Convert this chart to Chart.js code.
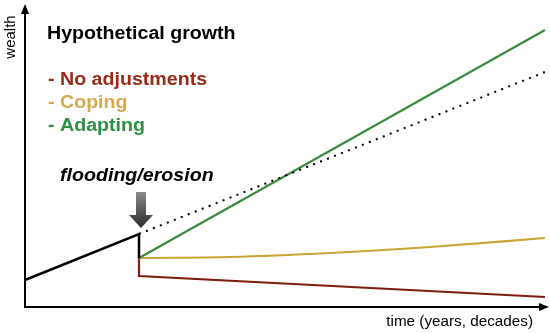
<!DOCTYPE html>
<html>
<head>
<meta charset="utf-8">
<script src="https://cdn.jsdelivr.net/npm/chart.js@4"></script>
<style>
  html, body { margin: 0; padding: 0; background: #fff; }
  #wrap { width: 550px; height: 333px; }
</style>
</head>
<body>
<div id="wrap"><canvas id="growthChart" width="550" height="333"></canvas></div>
<script>
// time runs 0..523, wealth runs 0..302 (no ticks in the original)
const eventTime = 114;
const beforeEvent = [{x: 0, y: 27}, {x: eventTime, y: 73}, {x: eventTime, y: 49}];
const expected = [{x: eventTime, y: 73}, {x: 520, y: 235}];
const adapting = [{x: eventTime, y: 49}, {x: 520, y: 277}];
const coping = [{x: eventTime, y: 49}, {x: 205, y: 50}, {x: 305, y: 54}, {x: 405, y: 60}, {x: 520, y: 69}];
const noAdjustments = [{x: eventTime, y: 49}, {x: eventTime, y: 31}, {x: 520, y: 10}];

const legendItems = ['- No adjustments', '- Coping', '- Adapting'];
const legendColors = ['#9a2a17', '#d6a94e', '#2f8f43'];

// the original's lettering is a bit wider than Arial
const STRETCH = 1.09;
function wideText(ctx, text, x, y, align) {
    ctx.save();
    ctx.translate(x, y);
    ctx.scale(STRETCH, 1);
    ctx.textAlign = align || 'left';
    ctx.fillText(text, 0, 0);
    ctx.restore();
}

const annotations = {
    id: 'annotations',
    afterDraw(chart) {
        const ctx = chart.ctx;
        const xs = chart.scales.x, ys = chart.scales.y;
        const x0 = xs.getPixelForValue(0), y0 = ys.getPixelForValue(0);
        const xEnd = xs.getPixelForValue(523), yTop = ys.getPixelForValue(302);
        ctx.save();

        // axes with arrow heads
        ctx.strokeStyle = '#000';
        ctx.fillStyle = '#000';
        ctx.lineWidth = 2;
        ctx.beginPath();
        ctx.moveTo(x0, yTop + 6);
        ctx.lineTo(x0, y0);
        ctx.lineTo(xEnd - 6, y0);
        ctx.stroke();
        ctx.beginPath();
        ctx.moveTo(x0, yTop - 1);
        ctx.lineTo(x0 - 4, yTop + 9);
        ctx.lineTo(x0 + 4, yTop + 9);
        ctx.closePath();
        ctx.fill();
        ctx.beginPath();
        ctx.moveTo(xEnd + 1, y0);
        ctx.lineTo(xEnd - 9, y0 - 4);
        ctx.lineTo(xEnd - 9, y0 + 4);
        ctx.closePath();
        ctx.fill();

        // axis labels
        ctx.textBaseline = 'alphabetic';
        ctx.font = '14px "Liberation Sans", Arial, sans-serif';
        wideText(ctx, 'time (years, decades)', 533, 326, 'right');
        ctx.save();
        ctx.translate(15, 37);
        ctx.rotate(-Math.PI / 2);
        ctx.textAlign = 'center';
        ctx.font = '15px "Liberation Sans", Arial, sans-serif';
        ctx.fillText('wealth', 0, 0);
        ctx.restore();

        // title and colour key
        ctx.font = 'bold 18px "Liberation Sans", Arial, sans-serif';
        wideText(ctx, 'Hypothetical growth', 47, 39);
        const baselines = [85, 108, 131];
        legendItems.forEach((t, i) => {
            ctx.fillStyle = legendColors[i];
            wideText(ctx, t, 48, baselines[i]);
        });

        // event label and arrow
        ctx.fillStyle = '#000';
        ctx.font = 'italic bold 18px "Liberation Sans", Arial, sans-serif';
        wideText(ctx, 'flooding/erosion', 60, 181);

        const ax = xs.getPixelForValue(eventTime) + 2;
        const g = ctx.createLinearGradient(0, 192, 0, 228);
        g.addColorStop(0, '#8a8a8a');
        g.addColorStop(1, '#2a2a2a');
        ctx.fillStyle = g;
        ctx.beginPath();
        ctx.moveTo(ax - 5, 192);
        ctx.lineTo(ax + 5, 192);
        ctx.lineTo(ax + 5, 215);
        ctx.lineTo(ax + 12, 215);
        ctx.lineTo(ax, 228);
        ctx.lineTo(ax - 12, 215);
        ctx.lineTo(ax - 5, 215);
        ctx.closePath();
        ctx.fill();

        ctx.restore();
    }
};

const growthCtx = document.getElementById('growthChart').getContext('2d');
const growthChart = new Chart(growthCtx, {
    type: 'line',
    data: {
        datasets: [
            { label: 'before', data: beforeEvent, borderColor: '#000', borderWidth: 2.5 },
            { label: 'expected', data: expected, borderColor: '#000', borderWidth: 2, borderDash: [2, 5.5] },
            { label: 'Adapting', data: adapting, borderColor: '#3b8a3e', borderWidth: 2.2 },
            { label: 'Coping', data: coping, borderColor: '#c9a433', borderWidth: 2.2, cubicInterpolationMode: 'monotone' },
            { label: 'No adjustments', data: noAdjustments, borderColor: '#7d1e10', borderWidth: 2.2 }
        ]
    },
    options: {
        responsive: false,
        animation: false,
        layout: { padding: { left: 25, right: 2, top: 5, bottom: 26 } },
        elements: { point: { radius: 0 }, line: { fill: false } },
        datasets: { line: { clip: false } },
        scales: {
            x: { type: 'linear', min: 0, max: 523, display: false },
            y: { min: 0, max: 302, display: false }
        },
        plugins: { legend: { display: false }, tooltip: { enabled: false } }
    },
    plugins: [annotations]
});
</script>
</body>
</html>
